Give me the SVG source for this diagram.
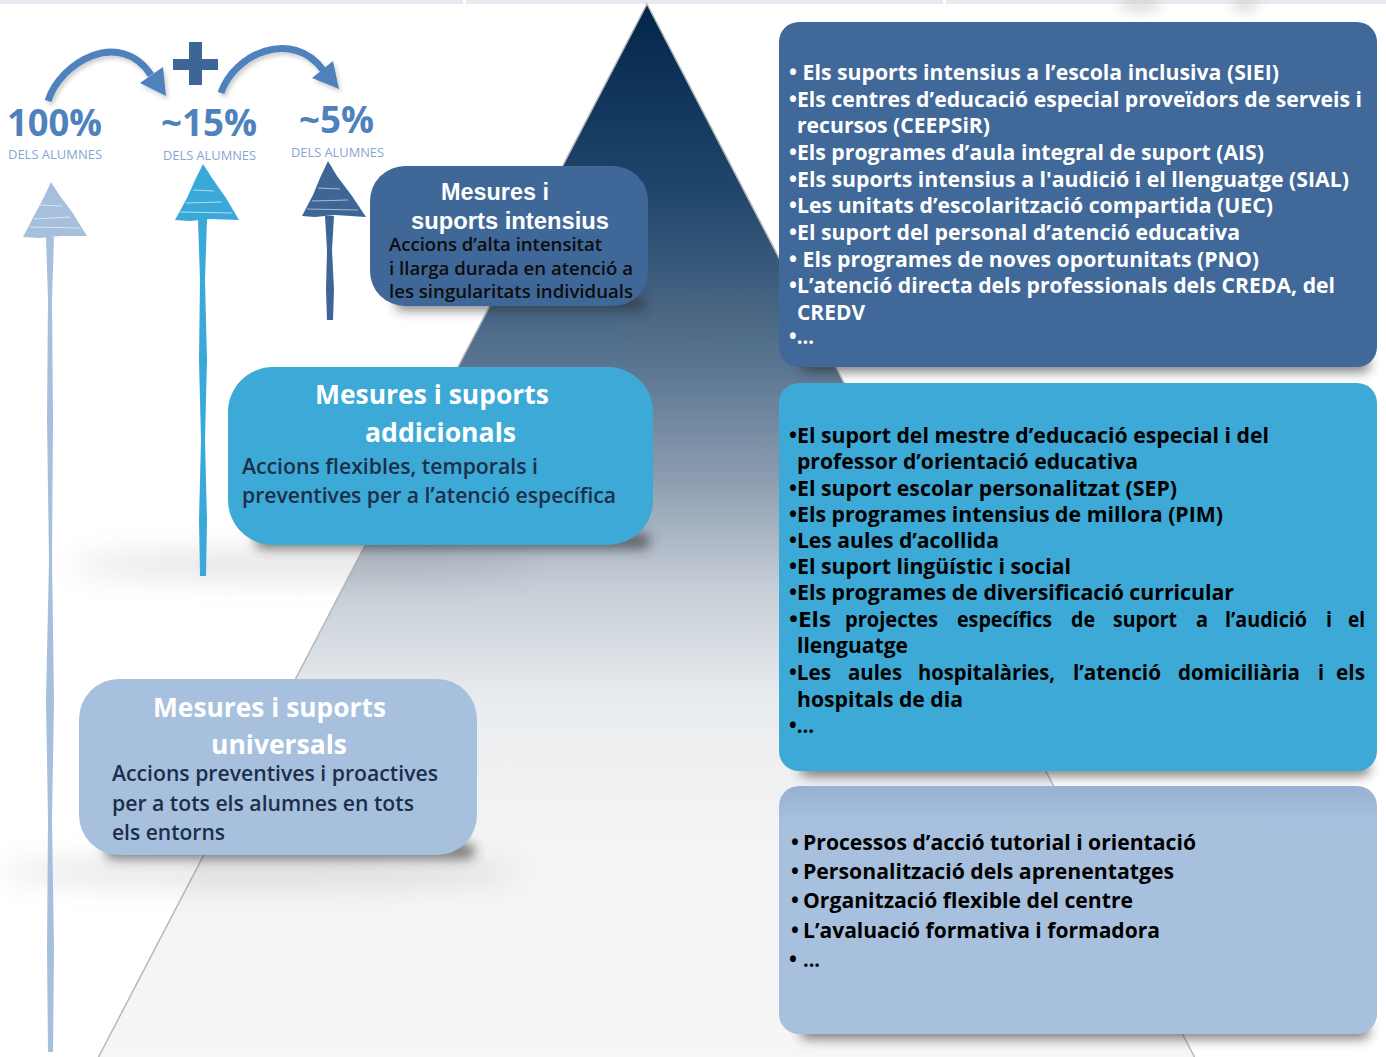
<svg xmlns="http://www.w3.org/2000/svg" width="1386" height="1057" viewBox="0 0 1386 1057">
<defs>
  <linearGradient id="pyr" gradientUnits="userSpaceOnUse" x1="0" y1="4" x2="0" y2="1057">
    <stop offset="0" stop-color="#02264a"/>
    <stop offset="0.18" stop-color="#21466c"/>
    <stop offset="0.34" stop-color="#587490"/>
    <stop offset="0.45" stop-color="#8c9cb0"/>
    <stop offset="0.55" stop-color="#c4ccd5"/>
    <stop offset="0.66" stop-color="#e9ecef"/>
    <stop offset="0.8" stop-color="#f4f4f4"/>
    <stop offset="1" stop-color="#f6f6f6"/>
  </linearGradient>
  <linearGradient id="uniTop" x1="0" y1="0" x2="0" y2="1">
    <stop offset="0" stop-color="#98b1d2"/>
    <stop offset="0.15" stop-color="#a7c0de"/>
    <stop offset="1" stop-color="#a7c0de"/>
  </linearGradient>
  <filter id="blur6" x="-30%" y="-200%" width="160%" height="500%"><feGaussianBlur stdDeviation="6"/></filter>
  <filter id="blur14" x="-30%" y="-300%" width="160%" height="700%"><feGaussianBlur stdDeviation="14"/></filter>
  <filter id="ds" x="-20%" y="-20%" width="140%" height="160%"><feDropShadow dx="2" dy="3" stdDeviation="2" flood-color="#000" flood-opacity="0.2"/></filter>
  <style>
    .pct{font-family:"Open Sans","Noto Sans",sans-serif;font-weight:700;font-size:38px;fill:#4f81bd}
    .dels{font-family:"Open Sans","Noto Sans",sans-serif;font-weight:400;font-size:13px;fill:#86a5d2}
    .tl{font-family:"Liberation Sans",Arial,sans-serif;font-weight:700;font-size:24px;fill:#ffffff}
    .d1{font-family:"Open Sans","Noto Sans",sans-serif;font-weight:600;font-size:18px;fill:#0d0d0d}
    .tt{font-family:"Open Sans","Noto Sans",sans-serif;font-weight:700;font-size:27px;fill:#ffffff}
    .dd{font-family:"Open Sans","Noto Sans",sans-serif;font-weight:600;font-size:21px;fill:#1c2f4a}
    .rw{font-family:"Open Sans","Noto Sans",sans-serif;font-weight:700;font-size:21px;fill:#ffffff}
    .rb{font-family:"Open Sans","Noto Sans",sans-serif;font-weight:700;font-size:21px;fill:#000000}
    .shadow{fill:#2a2a2a;opacity:0.6}
    .haze{fill:#6b6b6b;opacity:0.18}
  </style>
</defs>

<!-- background -->
<rect x="0" y="0" width="1386" height="1057" fill="#ffffff"/>
<rect x="0" y="0" width="1386" height="4" fill="#e7ebf1"/>
<rect x="463" y="0" width="3" height="4" fill="#ffffff"/>
<rect x="943" y="0" width="3" height="4" fill="#ffffff"/>
<ellipse cx="1140" cy="6" rx="22" ry="6" fill="#9a9a9a" opacity="0.35" filter="url(#blur6)"/>
<ellipse cx="1245" cy="6" rx="14" ry="6" fill="#9a9a9a" opacity="0.35" filter="url(#blur6)"/>

<!-- pyramid -->
<g id="pyramid">
  <polygon points="647,4 97,1060 1196,1060" fill="url(#pyr)" stroke="#b8b8b8" stroke-width="1.5"/>
</g>

<!-- soft background hazes / shadows -->
<g id="shadows">
  <ellipse cx="300" cy="565" rx="230" ry="14" class="haze" filter="url(#blur14)"/>
  <ellipse cx="260" cy="872" rx="260" ry="14" class="haze" filter="url(#blur14)"/>
  <ellipse cx="700" cy="315" rx="90" ry="10" class="haze" filter="url(#blur14)"/>
  <rect x="395" y="296" width="250" height="14" rx="7" class="shadow" filter="url(#blur6)"/>
  <rect x="255" y="533" width="395" height="16" rx="8" class="shadow" filter="url(#blur6)"/>
  <rect x="105" y="843" width="370" height="16" rx="8" class="shadow" filter="url(#blur6)"/>
  <rect x="800" y="356" width="570" height="16" rx="8" class="shadow" filter="url(#blur6)"/>
  <rect x="800" y="760" width="570" height="16" rx="8" class="shadow" filter="url(#blur6)"/>
  <rect x="800" y="1023" width="570" height="16" rx="8" class="shadow" filter="url(#blur6)"/>
</g>

<!-- sketchy vertical arrows -->
<g id="arrow-100">
  <polygon points="46,237 48,300 47,420 49,560 46,700 48,820 47,950 48,1052 53,1052 54,950 52,820 54,700 52,560 53,420 52,300 54,237" fill="#a6bfdc"/>
  <polygon points="51,182 60,196 72,212 87,236 60,236 40,238 23,237 35,214 44,197" fill="#a6bfdc"/>
  <path d="M34,219 L70,217 M30,227 L80,228 M40,205 L62,206" stroke="#ffffff" stroke-width="1.2" opacity="0.6" fill="none"/>
</g>
<g id="arrow-15">
  <polygon points="198,219 200,280 199,360 201,440 199,520 200,576 206,576 207,520 205,440 207,360 205,280 207,219" fill="#3aa8d8"/>
  <polygon points="203,164 212,178 226,198 239,220 210,219 190,221 175,220 187,198 196,178" fill="#3aa8d8"/>
  <path d="M186,203 L222,202 M180,212 L232,213 M193,190 L214,191" stroke="#ffffff" stroke-width="1.2" opacity="0.6" fill="none"/>
</g>
<g id="arrow-5">
  <polygon points="325,216 327,250 326,290 327,320 333,320 334,290 332,250 334,216" fill="#3d6596"/>
  <polygon points="328,161 337,176 352,196 366,217 335,215 315,217 302,216 313,195 320,178" fill="#3d6596"/>
  <path d="M312,201 L348,200 M307,209 L358,210 M318,188 L340,189" stroke="#ffffff" stroke-width="1.2" opacity="0.55" fill="none"/>
</g>

<!-- curved arrows and plus -->
<g id="connectors" filter="url(#ds)">
  <path d="M48,101 C60,62 120,28 151,75" fill="none" stroke="#4f81bd" stroke-width="7"/>
  <polygon points="140,83 163,67 166,96" fill="#4f81bd"/>
  <path d="M221,93 C234,54 292,28 323,70" fill="none" stroke="#4f81bd" stroke-width="7"/>
  <polygon points="312,78 333,61 339,89" fill="#4f81bd"/>
</g>
<g id="plus">
  <rect x="173" y="59" width="45" height="11" fill="#3d6596"/>
  <rect x="189" y="42" width="13" height="43" fill="#3d6596"/>
</g>

<!-- percentages -->
<g id="pct-100">
  <text class="pct" x="7" y="136" textLength="95" lengthAdjust="spacingAndGlyphs">100%</text>
  <text class="dels" x="8" y="159" textLength="94" lengthAdjust="spacingAndGlyphs">DELS ALUMNES</text>
</g>
<g id="pct-15">
  <text class="pct" x="161" y="136" textLength="96" lengthAdjust="spacingAndGlyphs">~15%</text>
  <text class="dels" x="163" y="160" textLength="93" lengthAdjust="spacingAndGlyphs">DELS ALUMNES</text>
</g>
<g id="pct-5">
  <text class="pct" x="299" y="133" textLength="75" lengthAdjust="spacingAndGlyphs">~5%</text>
  <text class="dels" x="291" y="157" textLength="93" lengthAdjust="spacingAndGlyphs">DELS ALUMNES</text>
</g>

<!-- left boxes -->
<g id="box-intensius">
  <rect x="370" y="166" width="278" height="140" rx="35" fill="#3f6899"/>
  <text class="tl" x="441" y="200" textLength="108" lengthAdjust="spacingAndGlyphs">Mesures i</text>
  <text class="tl" x="411" y="229" textLength="198" lengthAdjust="spacingAndGlyphs">suports intensius</text>
  <text class="d1" x="389" y="251" textLength="213" lengthAdjust="spacingAndGlyphs">Accions d’alta intensitat</text>
  <text class="d1" x="389" y="275" textLength="244" lengthAdjust="spacingAndGlyphs">i llarga durada en atenció a</text>
  <text class="d1" x="389" y="298" textLength="244" lengthAdjust="spacingAndGlyphs">les singularitats individuals</text>
</g>
<g id="box-addicionals">
  <rect x="228" y="367" width="425" height="178" rx="45" fill="#3ca9d6"/>
  <text class="tt" x="315" y="404" textLength="234" lengthAdjust="spacingAndGlyphs">Mesures i suports</text>
  <text class="tt" x="365" y="442" textLength="151" lengthAdjust="spacingAndGlyphs">addicionals</text>
  <text class="dd" x="242" y="474" textLength="296" lengthAdjust="spacingAndGlyphs">Accions flexibles, temporals i</text>
  <text class="dd" x="242" y="503" textLength="374" lengthAdjust="spacingAndGlyphs">preventives per a l’atenció específica</text>
</g>
<g id="box-universals">
  <rect x="79" y="679" width="398" height="176" rx="40" fill="#a7c0de"/>
  <text class="tt" x="153" y="717" textLength="233" lengthAdjust="spacingAndGlyphs">Mesures i suports</text>
  <text class="tt" x="211" y="754" textLength="136" lengthAdjust="spacingAndGlyphs">universals</text>
  <text class="dd" x="112" y="781" textLength="326" lengthAdjust="spacingAndGlyphs">Accions preventives i proactives</text>
  <text class="dd" x="112" y="811" textLength="302" lengthAdjust="spacingAndGlyphs">per a tots els alumnes en tots</text>
  <text class="dd" x="112" y="840" textLength="113" lengthAdjust="spacingAndGlyphs">els entorns</text>
</g>

<!-- right boxes -->
<g id="list-intensius">
  <rect x="779" y="22" width="598" height="345" rx="20" fill="#406898"/>
  <text class="rw" x="789" y="80" textLength="490" lengthAdjust="spacingAndGlyphs">• Els suports intensius a l’escola inclusiva (SIEI)</text>
  <text class="rw" x="789" y="107" textLength="573" lengthAdjust="spacingAndGlyphs">•Els centres d’educació especial proveïdors de serveis i</text>
  <text class="rw" x="797" y="133" textLength="193" lengthAdjust="spacingAndGlyphs">recursos (CEEPSiR)</text>
  <text class="rw" x="789" y="160" textLength="475" lengthAdjust="spacingAndGlyphs">•Els programes d’aula integral de suport (AIS)</text>
  <text class="rw" x="789" y="187" textLength="560" lengthAdjust="spacingAndGlyphs">•Els suports intensius a l'audició i el llenguatge (SIAL)</text>
  <text class="rw" x="789" y="213" textLength="484" lengthAdjust="spacingAndGlyphs">•Les unitats d’escolarització compartida (UEC)</text>
  <text class="rw" x="789" y="240" textLength="451" lengthAdjust="spacingAndGlyphs">•El suport del personal d’atenció educativa</text>
  <text class="rw" x="789" y="267" textLength="470" lengthAdjust="spacingAndGlyphs">• Els programes de noves oportunitats (PNO)</text>
  <text class="rw" x="789" y="293" textLength="546" lengthAdjust="spacingAndGlyphs">•L’atenció directa dels professionals dels CREDA, del</text>
  <text class="rw" x="797" y="320" textLength="68" lengthAdjust="spacingAndGlyphs">CREDV</text>
  <text class="rw" x="789" y="344" textLength="25" lengthAdjust="spacingAndGlyphs">•...</text>
</g>
<g id="list-addicionals">
  <rect x="779" y="383" width="598" height="388" rx="20" fill="#3ca9d6"/>
  <text class="rb" x="789" y="443" textLength="480" lengthAdjust="spacingAndGlyphs">•El suport del mestre d’educació especial i del</text>
  <text class="rb" x="797" y="469" textLength="341" lengthAdjust="spacingAndGlyphs">professor d’orientació educativa</text>
  <text class="rb" x="789" y="496" textLength="388" lengthAdjust="spacingAndGlyphs">•El suport escolar personalitzat (SEP)</text>
  <text class="rb" x="789" y="522" textLength="434" lengthAdjust="spacingAndGlyphs">•Els programes intensius de millora (PIM)</text>
  <text class="rb" x="789" y="548" textLength="210" lengthAdjust="spacingAndGlyphs">•Les aules d’acollida</text>
  <text class="rb" x="789" y="574" textLength="282" lengthAdjust="spacingAndGlyphs">•El suport lingüístic i social</text>
  <text class="rb" x="789" y="600" textLength="445" lengthAdjust="spacingAndGlyphs">•Els programes de diversificació curricular</text>
  <text class="rb" y="627"><tspan x="789" textLength="42" lengthAdjust="spacingAndGlyphs">•Els</tspan> <tspan x="845" textLength="93" lengthAdjust="spacingAndGlyphs">projectes</tspan> <tspan x="957" textLength="95" lengthAdjust="spacingAndGlyphs">específics</tspan> <tspan x="1071" textLength="24" lengthAdjust="spacingAndGlyphs">de</tspan> <tspan x="1113" textLength="64" lengthAdjust="spacingAndGlyphs">suport</tspan> <tspan x="1196" textLength="12" lengthAdjust="spacingAndGlyphs">a</tspan> <tspan x="1225" textLength="82" lengthAdjust="spacingAndGlyphs">l’audició</tspan> <tspan x="1326" textLength="6" lengthAdjust="spacingAndGlyphs">i</tspan> <tspan x="1348" textLength="17" lengthAdjust="spacingAndGlyphs">el</tspan></text>
  <text class="rb" x="797" y="653" textLength="111" lengthAdjust="spacingAndGlyphs">llenguatge</text>
  <text class="rb" y="680"><tspan x="789" textLength="42" lengthAdjust="spacingAndGlyphs">•Les</tspan> <tspan x="848" textLength="54" lengthAdjust="spacingAndGlyphs">aules</tspan> <tspan x="918" textLength="137" lengthAdjust="spacingAndGlyphs">hospitalàries,</tspan> <tspan x="1073" textLength="88" lengthAdjust="spacingAndGlyphs">l’atenció</tspan> <tspan x="1178" textLength="122" lengthAdjust="spacingAndGlyphs">domiciliària</tspan> <tspan x="1318" textLength="6" lengthAdjust="spacingAndGlyphs">i</tspan> <tspan x="1336" textLength="29" lengthAdjust="spacingAndGlyphs">els</tspan></text>
  <text class="rb" x="797" y="707" textLength="166" lengthAdjust="spacingAndGlyphs">hospitals de dia</text>
  <text class="rb" x="789" y="733" textLength="25" lengthAdjust="spacingAndGlyphs">•...</text>
</g>
<g id="list-universals">
  <rect x="779" y="786" width="598" height="248" rx="20" fill="url(#uniTop)"/>
  <text class="rb" y="850"><tspan x="791">•</tspan><tspan x="803" textLength="393" lengthAdjust="spacingAndGlyphs">Processos d’acció tutorial i orientació</tspan></text>
  <text class="rb" y="879"><tspan x="791">•</tspan><tspan x="803" textLength="371" lengthAdjust="spacingAndGlyphs">Personalització dels aprenentatges</tspan></text>
  <text class="rb" y="908"><tspan x="791">•</tspan><tspan x="803" textLength="330" lengthAdjust="spacingAndGlyphs">Organització flexible del centre</tspan></text>
  <text class="rb" y="938"><tspan x="791">•</tspan><tspan x="803" textLength="357" lengthAdjust="spacingAndGlyphs">L’avaluació formativa i formadora</tspan></text>
  <text class="rb" y="967"><tspan x="789">•</tspan><tspan x="803" textLength="17" lengthAdjust="spacingAndGlyphs">...</tspan></text>
</g>
</svg>
